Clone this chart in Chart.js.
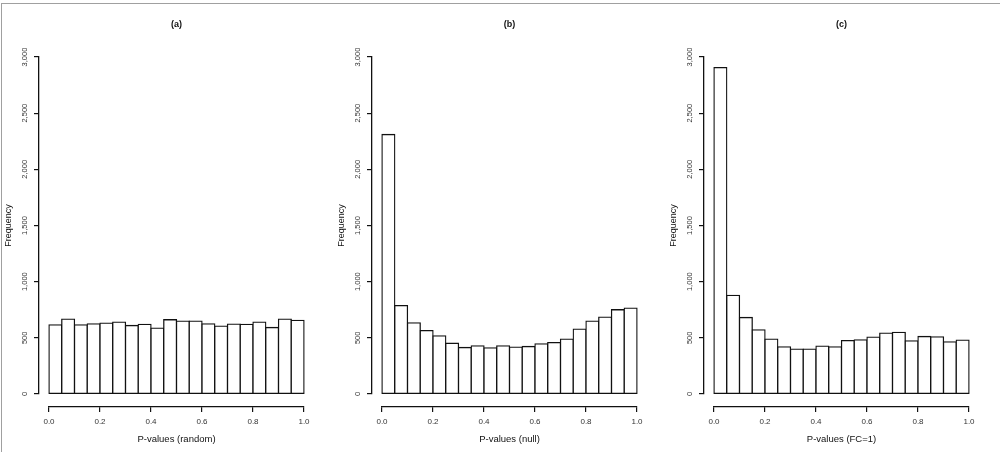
<!DOCTYPE html>
<html>
<head>
<meta charset="utf-8">
<script src="https://cdn.jsdelivr.net/npm/chart.js@4.4.0/dist/chart.umd.min.js"></script>
<style>
  html, body { margin: 0; padding: 0; background: #fff; }
  #page { position: relative; width: 1000px; height: 452px; overflow: hidden; }
  #frame { position: absolute; left: 1px; top: 3px; right: 0; bottom: 0; border-top: 1px solid #a0a0a0; border-left: 1px solid #a0a0a0; }
  canvas { position: absolute; top: 0; }
</style>
</head>
<body>
<div id="page">
  <div id="frame"></div>
  <canvas id="histA" width="330" height="452" style="left:0"></canvas>
  <canvas id="histB" width="330" height="452" style="left:333px"></canvas>
  <canvas id="histC" width="330" height="452" style="left:665px"></canvas>
</div>
<script>
// ===== Data =====
const binMids = [0.025, 0.075, 0.125, 0.175, 0.225, 0.275, 0.325, 0.375, 0.425, 0.475,
                 0.525, 0.575, 0.625, 0.675, 0.725, 0.775, 0.825, 0.875, 0.925, 0.975];
const randomCounts = [616, 667, 616, 625, 631, 640, 610, 619, 586, 661, 649, 649, 625, 604, 622, 619, 640, 592, 667, 655];
const nullCounts = [2310, 786, 634, 565, 518, 452, 414, 429, 411, 429, 417, 423, 446, 458, 488, 577, 649, 684, 750, 765];
const fc1Counts = [2905, 878, 681, 571, 488, 420, 399, 399, 426, 420, 476, 482, 506, 542, 548, 473, 512, 509, 464, 479];
const panelTitles = ['(a)', '(b)', '(c)'];
const xTitles = ['P-values (random)', 'P-values (null)', 'P-values (FC=1)'];

Chart.defaults.font.family = "'Liberation Sans', Arial, sans-serif";
Chart.defaults.color = '#333';

const INK = '#111';

// R-style axes: pull the y axis left and drop the x axis below the bars
const detachAxes = {
  id: 'detachAxes',
  afterLayout(chart) {
    const { x, y } = chart.scales;
    x.top += 13; x.bottom += 13;
    y.left -= 10; y.right -= 10;
  },
};

function renderHistogram(canvasId, counts, title, xTitle) {
  const canvas = document.getElementById(canvasId);
  return new Chart(canvas, {
    type: 'bar',
    data: {
      datasets: [{
        data: binMids.map((m, i) => ({ x: m, y: counts[i] })),
        backgroundColor: '#fff',
        borderColor: INK,
        borderWidth: 1.3,
        borderSkipped: false,
        inflateAmount: 0.65,
        barPercentage: 1,
        categoryPercentage: 1,
        clip: 2,
      }],
    },
    options: {
      responsive: false,
      animation: false,
      events: [],
      layout: { padding: { left: 10, right: 26, top: 0, bottom: 18 } },
      scales: {
        x: {
          type: 'linear',
          min: 0,
          max: 1,
          offset: false,
          afterFit: (s) => { s.height = 40; },
          grid: { offset: false, drawOnChartArea: false, drawTicks: true, tickLength: 5, color: INK, lineWidth: 1.2 },
          border: { display: true, color: INK, width: 1.3 },
          ticks: {
            stepSize: 0.2,
            autoSkip: false,
            maxRotation: 0,
            padding: 4.5,
            font: { size: 8 },
            callback: (v) => v.toFixed(1),
          },
          title: { display: true, text: xTitle, color: INK, font: { size: 9.5 }, padding: { top: 0, bottom: 2 } },
        },
        y: {
          min: 0,
          max: 3000,
          afterFit: (s) => { s.width = 39; },
          grid: { drawOnChartArea: false, drawTicks: true, tickLength: 5, color: INK, lineWidth: 1.2 },
          border: { display: true, color: INK, width: 1.3 },
          ticks: {
            stepSize: 500,
            autoSkip: false,
            minRotation: 90,
            maxRotation: 90,
            crossAlign: 'center',
            padding: 0,
            font: { size: 7.5 },
            callback: (v) => v.toLocaleString('en-US'),
          },
          title: { display: true, text: 'Frequency', color: INK, font: { size: 9 }, padding: { top: 3, bottom: 0 } },
        },
      },
      plugins: {
        legend: { display: false },
        tooltip: { enabled: false },
        title: {
          display: true,
          text: title,
          fullSize: false,
          color: INK,
          font: { size: 9, weight: 'bold' },
          padding: { top: 19.6, bottom: 26.6 },
        },
      },
    },
    plugins: [detachAxes],
  });
}

renderHistogram('histA', randomCounts, panelTitles[0], xTitles[0]);
renderHistogram('histB', nullCounts, panelTitles[1], xTitles[1]);
renderHistogram('histC', fc1Counts, panelTitles[2], xTitles[2]);
</script>
</body>
</html>
